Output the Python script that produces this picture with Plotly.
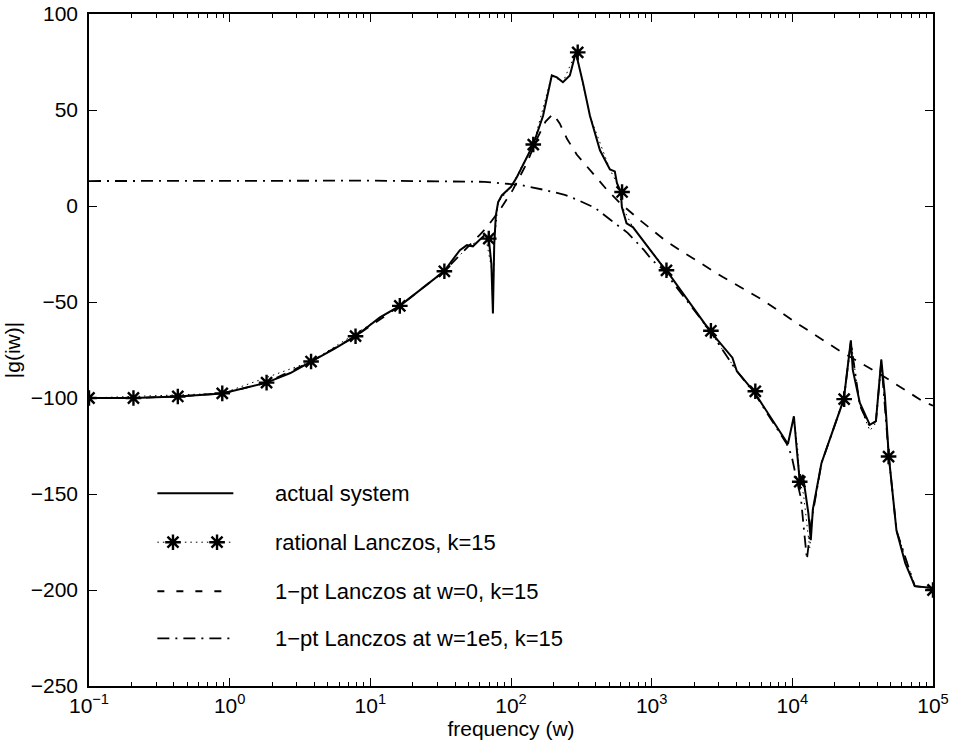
import plotly.graph_objects as go

# ---------------- data ----------------
# actual system |g(iw)|
act_freq = [0.1, 0.207, 0.428, 0.886, 1.83, 2.7, 3.79, 5.5, 7.85, 11.7, 16.2, 23, 33.4,
            43.3, 48.6, 53.6, 60.1, 65.2, 69.5, 72.5, 74.4, 76, 78, 81, 86, 100, 110,
            125, 136, 144, 169, 195, 212, 234, 262, 289, 324, 364, 429, 505, 547, 566,
            604, 614, 663, 735, 1202, 1274, 2594, 3590, 3750, 4030, 5320, 9300, 10260,
            10700, 11100, 11300, 11880, 13000, 13530, 13990, 16100, 19400, 23230, 26060,
            26900, 30200, 35560, 39300, 42900, 45500, 48530, 55000, 63500, 74200, 100000]
act_mag = [-100, -100, -99.2, -97.6, -92, -87, -81, -74.5, -67.8, -58, -52, -43.5, -34,
           -23, -20.4, -21, -17.3, -15, -17, -30, -56, -20, -5, 2, 5.5, 10, 15,
           23, 29, 32, 47, 68, 67, 64.5, 68, 80, 64.5, 47, 29, 19, 18, 12,
           7, -0.5, -9, -11, -31.6, -33.5, -65, -77, -79, -86, -96.5, -124, -109.5,
           -125, -140, -143.6, -140, -160, -174, -158, -134, -116.7, -100.6, -70,
           -85.4, -102.6, -114, -112, -80, -99, -130.5, -169, -186, -198, -199]

# rational Lanczos, k=15 (dotted curve)
rl_freq = [0.1, 0.886, 3.79, 16.2, 33.4, 50, 66, 72.5, 74.4, 76, 81, 100, 144, 195, 234,
           289, 364, 505, 566, 614, 735, 1274, 2594, 4030, 5320, 9300, 10260, 10900,
           11300, 12000, 12800, 13300, 13990, 16100, 23230, 26060, 30200, 35560, 39300,
           42900, 48530, 55000, 74200, 100000]
rl_mag = [-100, -97.6, -81, -52, -34, -21, -16, -32, -54, -20, 2, 10, 32, 68, 64.5,
          80, 47, 19, 12, 0, -11, -33.5, -65, -86, -96.5, -124, -110, -126,
          -143.6, -150, -168, -178, -160, -134, -100.6, -70, -104, -117, -113,
          -80, -130.5, -169, -198, -199]
# rational Lanczos interpolation points (stars)
star_freq = [0.1, 0.207, 0.428, 0.886, 1.83, 3.79, 7.85, 16.2, 33.6, 69.5, 144, 298,
             616, 1274, 2637, 5456, 11288, 23357, 48329, 100000]
star_mag = [-100, -100, -99.2, -97.6, -92, -81, -67.8, -52, -34, -17, 32, 80,
            7.3, -33.5, -65, -96.5, -143.6, -100.6, -130.5, -200]

# 1-pt Lanczos at w=0, k=15 (dashed)
p0_freq = [0.1, 0.207, 0.428, 0.886, 1.83, 3.79, 7.85, 16.2, 33.4, 43, 50, 60, 67.5,
           83.4, 103, 130, 153, 176, 199, 222, 250, 294, 382, 481, 594, 824, 1241,
           1667, 3206, 6165, 10770, 14930, 21770, 41880, 84500, 100000]
p0_mag = [-100, -100, -99.2, -97.6, -92, -81, -67.8, -52, -34, -26, -21, -15, -11,
          -2, 8.4, 22.5, 35, 44, 48, 43, 35, 26.7, 17, 8.4, 1.6, -7.3, -17.8,
          -24, -37, -49, -61, -67.6, -75.5, -87.5, -101.7, -104]

# 1-pt Lanczos at w=1e5, k=15 (dash-dot)
p5_freq = [0.1, 1, 10, 65, 81, 117, 172, 241, 299, 396, 511, 675, 883, 1000, 1202,
           2594, 4030, 5320, 9140, 9870, 11000, 11500, 12000, 12700, 13600, 16100,
           23230, 26060, 30200, 35560, 39300, 42900, 48530, 55000, 74200, 100000]
p5_mag = [13, 13.1, 13.2, 12.6, 12, 11, 8.4, 5.8, 3.1, -1, -7.3, -14, -23, -28, -33,
          -65, -86, -97, -124, -130, -146, -152, -166, -184, -165, -134,
          -100.6, -71, -104, -115, -112, -81, -130.5, -169, -198, -199]

legend_labels = ["actual system", "rational Lanczos, k=15",
                 "1\u2212pt Lanczos at w=0, k=15", "1\u2212pt Lanczos at w=1e5, k=15"]

x_tickvals = [0.1, 1, 10, 100, 1000, 10000, 100000]
x_ticktext = ["10<sup>\u22121</sup>", "10<sup>0</sup>", "10<sup>1</sup>", "10<sup>2</sup>",
              "10<sup>3</sup>", "10<sup>4</sup>", "10<sup>5</sup>"]
y_tickvals = [100, 50, 0, -50, -100, -150, -200, -250]

# ---------------- styles / layout ----------------
FONT = "Liberation Sans, Arial, Helvetica, sans-serif"
BLACK = "#000000"
DASH = "10px,9px"
DASHDOT = "12px,6px,2px,6px"
DOT = "1.5px,4px"
STAR = dict(symbol="asterisk-open", size=13, color=BLACK,
            line=dict(color=BLACK, width=2.4))

fig = go.Figure()

fig.add_trace(go.Scatter(x=rl_freq, y=rl_mag, mode="lines",
                         line=dict(color=BLACK, width=1, dash=DOT), showlegend=False))
fig.add_trace(go.Scatter(x=p0_freq, y=p0_mag, mode="lines",
                         line=dict(color=BLACK, width=1.8, dash=DASH), showlegend=False))
fig.add_trace(go.Scatter(x=p5_freq, y=p5_mag, mode="lines",
                         line=dict(color=BLACK, width=1.8, dash=DASHDOT), showlegend=False))
fig.add_trace(go.Scatter(x=act_freq, y=act_mag, mode="lines",
                         line=dict(color=BLACK, width=2), showlegend=False))
fig.add_trace(go.Scatter(x=star_freq, y=star_mag, mode="markers",
                         marker=STAR, showlegend=False))

# ---- hand-drawn legend (paper fractions of the plot area) ----
leg_x0, leg_x1, leg_text_x = 0.081, 0.171, 0.218
leg_rows = [0.287, 0.214, 0.141, 0.071]
leg_styles = [dict(dash="solid", width=2), dict(dash=DOT, width=1),
              dict(dash="7px,12px", width=1.8), dict(dash=DASHDOT, width=1.8)]
for row, st, lab in zip(leg_rows, leg_styles, legend_labels):
    fig.add_shape(type="line", xref="x domain", yref="y domain",
                  x0=leg_x0, x1=leg_x1, y0=row, y1=row,
                  line=dict(color=BLACK, width=st["width"], dash=st["dash"]))
    fig.add_annotation(xref="x domain", yref="y domain", x=leg_text_x, y=row,
                       text=lab, showarrow=False, xanchor="left", yanchor="middle",
                       font=dict(family=FONT, size=22, color=BLACK))
fig.add_trace(go.Scatter(x=[0.0995, 0.1517], y=[leg_rows[1], leg_rows[1]],
                         xaxis="x2", yaxis="y2", mode="markers",
                         marker=STAR, showlegend=False, hoverinfo="skip"))

axis_common = dict(showline=True, linecolor=BLACK, linewidth=1.6, mirror="ticks",
                   ticks="inside", tickcolor=BLACK, ticklen=8, tickwidth=1.3,
                   showgrid=False, zeroline=False, automargin=False,
                   ticklabeloverflow="allow",
                   tickfont=dict(family=FONT, size=21, color=BLACK))

fig.update_layout(
    width=958, height=751,
    margin=dict(l=89, r=25, t=14, b=65),
    paper_bgcolor="white", plot_bgcolor="white",
    font=dict(family=FONT, size=21, color=BLACK),
    xaxis=dict(type="log", range=[-1, 5], tickmode="array",
               tickvals=x_tickvals, ticktext=x_ticktext,
               minor=dict(ticks="inside", ticklen=4, tickcolor=BLACK, dtick="D1",
                          showgrid=False),
               title=dict(text="frequency (w)", font=dict(family=FONT, size=21),
                          standoff=2),
               **axis_common),
    yaxis=dict(range=[-250, 100], tickmode="array", tickvals=y_tickvals,
               ticklabelstandoff=5,
               title=dict(text="|g(iw)|", font=dict(family=FONT, size=21), standoff=4),
               **axis_common),
    xaxis2=dict(overlaying="x", range=[0, 1], visible=False, fixedrange=True),
    yaxis2=dict(overlaying="y", range=[0, 1], visible=False, fixedrange=True),
    showlegend=False,
)

# remove the page's default body margin so the figure fills the window exactly
fig.write_html("out.html",
               config={"displayModeBar": False},
               post_script="document.body.style.margin='0';"
                           "document.body.style.overflow='hidden';")
